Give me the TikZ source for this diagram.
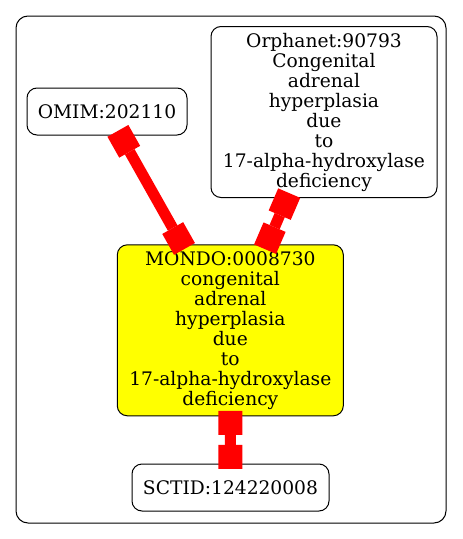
\documentclass[tikz,border=0pt]{standalone}
\usepackage{fontspec}
\setmainfont{DejaVu Serif}
\usetikzlibrary{arrows.meta}
\definecolor{nodeyellow}{RGB}{255,255,0}
\definecolor{edgered}{RGB}{255,0,0}
\begin{document}
\begin{tikzpicture}[x=0.75pt,y=-0.75pt,
  nodebox/.style={draw=black, line width=0.75pt, rounded corners=7.5pt, align=center, inner sep=0pt, font=\fontsize{14}{15}\selectfont},
  endbox/.tip={Rectangle[length=18pt,width=18pt,line width=0pt]},
  link/.style={draw=edgered, line width=8.25pt, {endbox}-{endbox}, shorten <=-4pt, shorten >=-4pt}]
\useasboundingbox (0,0) rectangle (463,539);
\draw[line width=0.75pt, rounded corners=9pt] (16,16) rectangle (446,523);
\node[nodebox, minimum width=120pt, minimum height=35.25pt] (omim) at (107,111.5) {OMIM:202110};
\node[nodebox, minimum width=169.5pt, minimum height=128.25pt] (orph) at (324,112) {Orphanet:90793\\Congenital\\adrenal\\hyperplasia\\due\\to\\17-alpha-hydroxylase\\deficiency};
\node[nodebox, fill=nodeyellow, minimum width=169.5pt, minimum height=128.25pt] (mondo) at (230.3,330.3) {MONDO:0008730\\congenital\\adrenal\\hyperplasia\\due\\to\\17-alpha-hydroxylase\\deficiency};
\node[nodebox, minimum width=147.75pt, minimum height=35.25pt] (sctid) at (230.5,487.5) {SCTID:124220008};
\draw[link] (omim) -- (mondo);
\draw[link] (orph) -- (mondo);
\draw[link] (mondo) -- (sctid);
\end{tikzpicture}
\end{document}
